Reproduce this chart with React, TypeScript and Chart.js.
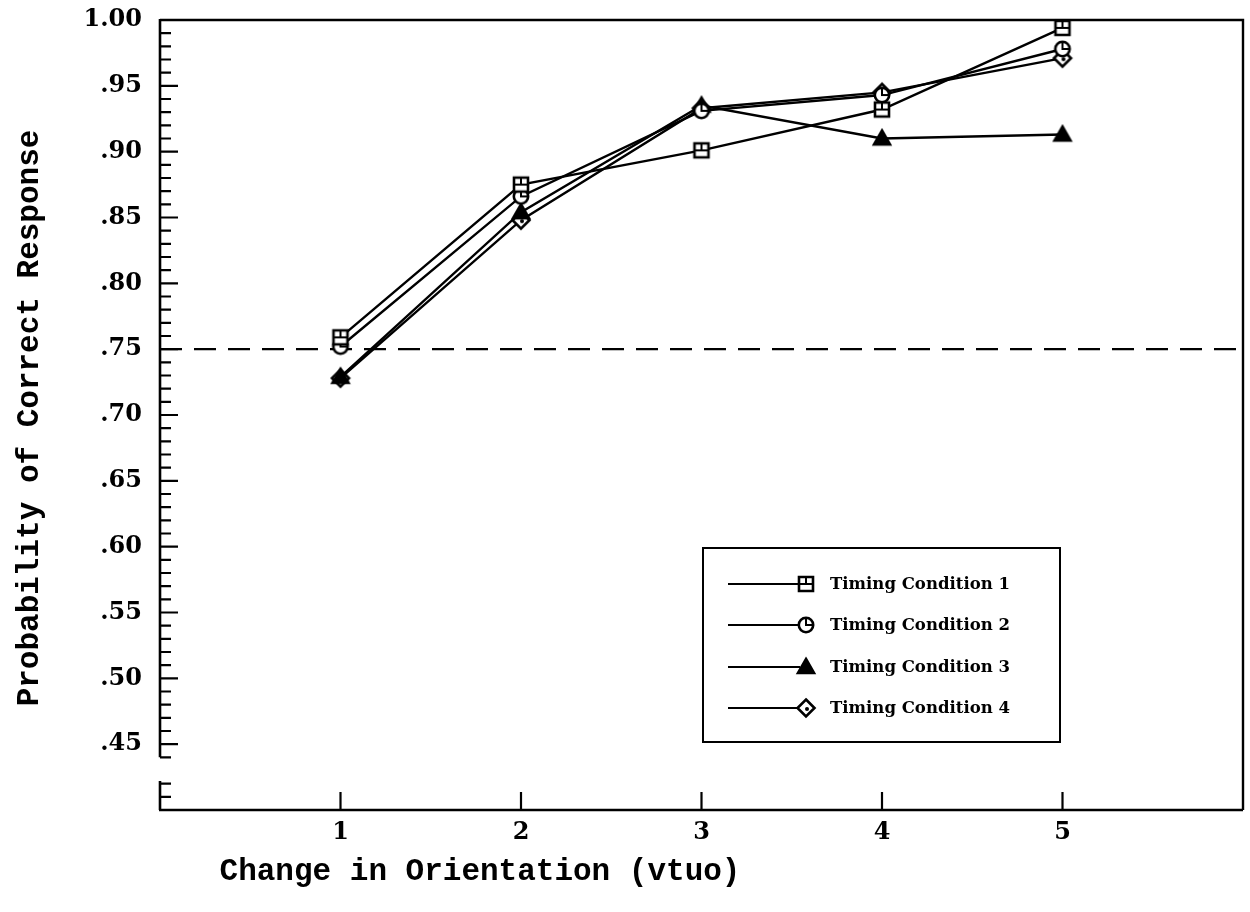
import React, { useEffect, useRef } from 'react';
import { Chart, registerables } from 'chart.js';

Chart.register(...registerables);

// ---- Data ----
const orientationChange = [1, 2, 3, 4, 5];
const timing1 = [0.759, 0.875, 0.901, 0.932, 0.994];
const timing2 = [0.752, 0.866, 0.931, 0.943, 0.978];
const timing3 = [0.729, 0.854, 0.935, 0.910, 0.913];
const timing4 = [0.728, 0.848, 0.933, 0.945, 0.971];
const seriesNames = ['Timing Condition 1', 'Timing Condition 2', 'Timing Condition 3', 'Timing Condition 4'];
const thresholdLevel = 0.75;
const xTickLabels = ['1', '2', '3', '4', '5'];
const yTickLabels = ['.45', '.50', '.55', '.60', '.65', '.70', '.75', '.80', '.85', '.90', '.95', '1.00'];
const xAxisTitle = 'Change in Orientation (vtuo)';
const yAxisTitle = 'Probability of Correct Response';

type MarkerKind = 'square' | 'circle' | 'triangle' | 'diamond';
const markerKinds: MarkerKind[] = ['square', 'circle', 'triangle', 'diamond'];

function makeMarker(kind: MarkerKind): HTMLCanvasElement {
  const c = document.createElement('canvas');
  c.width = 22;
  c.height = 22;
  const g = c.getContext('2d')!;
  g.strokeStyle = '#000';
  g.fillStyle = '#fff';
  g.lineWidth = 2.6;
  g.lineCap = 'butt';
  const m = 11;
  if (kind === 'square') {
    g.beginPath();
    g.rect(4, 4, 14, 14);
    g.fill();
    g.stroke();
    g.lineWidth = 2;
    g.beginPath();
    g.moveTo(4, m);
    g.lineTo(18, m);
    g.moveTo(m, 4);
    g.lineTo(m, m);
    g.stroke();
  } else if (kind === 'circle') {
    g.beginPath();
    g.arc(m, m, 7.2, 0, Math.PI * 2);
    g.fill();
    g.stroke();
    g.lineWidth = 2;
    g.beginPath();
    g.moveTo(m, 4);
    g.lineTo(m, m);
    g.lineTo(18, m);
    g.stroke();
  } else if (kind === 'triangle') {
    g.fillStyle = '#000';
    g.beginPath();
    g.moveTo(m, 3);
    g.lineTo(19, 17);
    g.lineTo(3, 17);
    g.closePath();
    g.fill();
    g.stroke();
  } else {
    g.beginPath();
    g.moveTo(m, 2.5);
    g.lineTo(19.5, m);
    g.lineTo(m, 19.5);
    g.lineTo(2.5, m);
    g.closePath();
    g.fill();
    g.stroke();
    g.fillStyle = '#000';
    g.beginPath();
    g.arc(m + 1, m + 1, 2, 0, Math.PI * 2);
    g.fill();
  }
  return c;
}

export default function App() {
  const canvasRef = useRef<HTMLCanvasElement>(null);

  useEffect(() => {
    document.body.style.margin = '0';
    const markers = markerKinds.map(makeMarker);
    const series = [timing1, timing2, timing3, timing4];

    const datasets: any[] = series.map((vals, i) => ({
      label: seriesNames[i],
      data: orientationChange.map((x, j) => ({ x, y: vals[j] })),
      borderColor: '#000',
      backgroundColor: '#000',
      borderWidth: 2.4,
      pointStyle: markers[i],
      pointRadius: 9,
      tension: 0,
      clip: false,
    }));
    datasets.push({
      label: 'threshold',
      data: [
        { x: 0, y: thresholdLevel },
        { x: 6, y: thresholdLevel },
      ],
      borderColor: '#000',
      borderWidth: 2.4,
      borderDash: [22, 12],
      pointRadius: 0,
      clip: false,
    });

    const framePlugin = {
      id: 'frame',
      afterDraw(chart: any) {
        const ctx = chart.ctx as CanvasRenderingContext2D;
        const { left, right, top, bottom } = chart.chartArea;
        const ys = chart.scales.y;
        const xs = chart.scales.x;
        ctx.save();
        ctx.strokeStyle = '#000';
        ctx.lineCap = 'butt';
        // frame
        ctx.lineWidth = 2.4;
        ctx.beginPath();
        ctx.moveTo(left, top);
        ctx.lineTo(right, top);
        ctx.lineTo(right, bottom);
        ctx.moveTo(left - 1, bottom);
        ctx.lineTo(right, bottom);
        ctx.stroke();
        // left axis with break
        ctx.lineWidth = 2.6;
        ctx.beginPath();
        ctx.moveTo(left, top - 1);
        ctx.lineTo(left, ys.getPixelForValue(0.44));
        ctx.moveTo(left, ys.getPixelForValue(0.422));
        ctx.lineTo(left, bottom);
        ctx.stroke();
        // y ticks
        ctx.lineWidth = 2.2;
        ctx.beginPath();
        for (let i = 41; i <= 99; i++) {
          if (i === 43) continue;
          const yy = ys.getPixelForValue(i / 100);
          const len = i % 5 === 0 ? 18 : 11;
          ctx.moveTo(left, yy);
          ctx.lineTo(left + len, yy);
        }
        ctx.stroke();
        // x ticks
        ctx.beginPath();
        for (let i = 1; i <= 5; i++) {
          const xx = xs.getPixelForValue(i);
          ctx.moveTo(xx, bottom);
          ctx.lineTo(xx, bottom - 18);
        }
        ctx.stroke();

        // axis titles
        ctx.fillStyle = '#000';
        ctx.font = 'bold 31px "Liberation Mono", monospace';
        ctx.textAlign = 'center';
        ctx.textBaseline = 'alphabetic';
        ctx.fillText(xAxisTitle, 480, 880);
        ctx.save();
        ctx.translate(38, (top + bottom) / 2 + 3);
        ctx.rotate(-Math.PI / 2);
        ctx.fillText(yAxisTitle, 0, 0);
        ctx.restore();

        // legend
        const bx = 703, by = 548, bw = 357, bh = 194;
        ctx.lineWidth = 2;
        ctx.strokeRect(bx, by, bw, bh);
        const rows = [584, 625, 667, 708];
        ctx.font = 'bold 17px "DejaVu Serif", serif';
        ctx.textAlign = 'left';
        ctx.textBaseline = 'middle';
        rows.forEach((ry, i) => {
          ctx.lineWidth = 2;
          ctx.beginPath();
          ctx.moveTo(728, ry);
          ctx.lineTo(800, ry);
          ctx.stroke();
          const mk = markers[i];
          ctx.drawImage(mk, 806 - mk.width / 2, ry - mk.height / 2);
          ctx.fillText(seriesNames[i], 830, ry + 1, 180);
        });
        ctx.restore();
      },
    };

    const tickFont = { family: '"DejaVu Serif", serif', weight: 'bold' as const, size: 24 };

    const chart = new Chart(canvasRef.current!, {
      type: 'line',
      data: { datasets },
      options: {
        responsive: false,
        animation: false,
        layout: { autoPadding: false, padding: { top: 20, right: 7, left: 0, bottom: 0 } },
        plugins: { legend: { display: false }, tooltip: { enabled: false } },
        scales: {
          x: {
            type: 'linear',
            min: 0,
            max: 6,
            grid: { display: false, drawTicks: false },
            border: { display: false },
            ticks: {
              stepSize: 1,
              padding: 8,
              color: '#000',
              font: tickFont,
              maxRotation: 0,
              autoSkip: false,
              callback: (v: any) => {
                const idx = orientationChange.indexOf(Number(v));
                return idx >= 0 ? xTickLabels[idx] : '';
              },
            },
            afterFit: (s: any) => {
              s.height = 102;
              s.paddingLeft = 0;
              s.paddingRight = 0;
            },
          },
          y: {
            type: 'linear',
            min: 0.4,
            max: 1.0,
            grid: { display: false, drawTicks: false },
            border: { display: false },
            ticks: {
              stepSize: 0.05,
              padding: 18,
              color: '#000',
              font: tickFont,
              autoSkip: false,
              callback: (v: any) => {
                const lbl = yTickLabels.find((t) => Math.abs(parseFloat(t) - Number(v)) < 1e-6);
                return lbl ?? '';
              },
            },
            afterFit: (s: any) => {
              s.width = 160;
              s.paddingTop = 0;
              s.paddingBottom = 0;
            },
          },
        },
      },
      plugins: [framePlugin],
    });

    return () => chart.destroy();
  }, []);

  return <canvas ref={canvasRef} width={1250} height={912} style={{ display: 'block' }} />;
}
